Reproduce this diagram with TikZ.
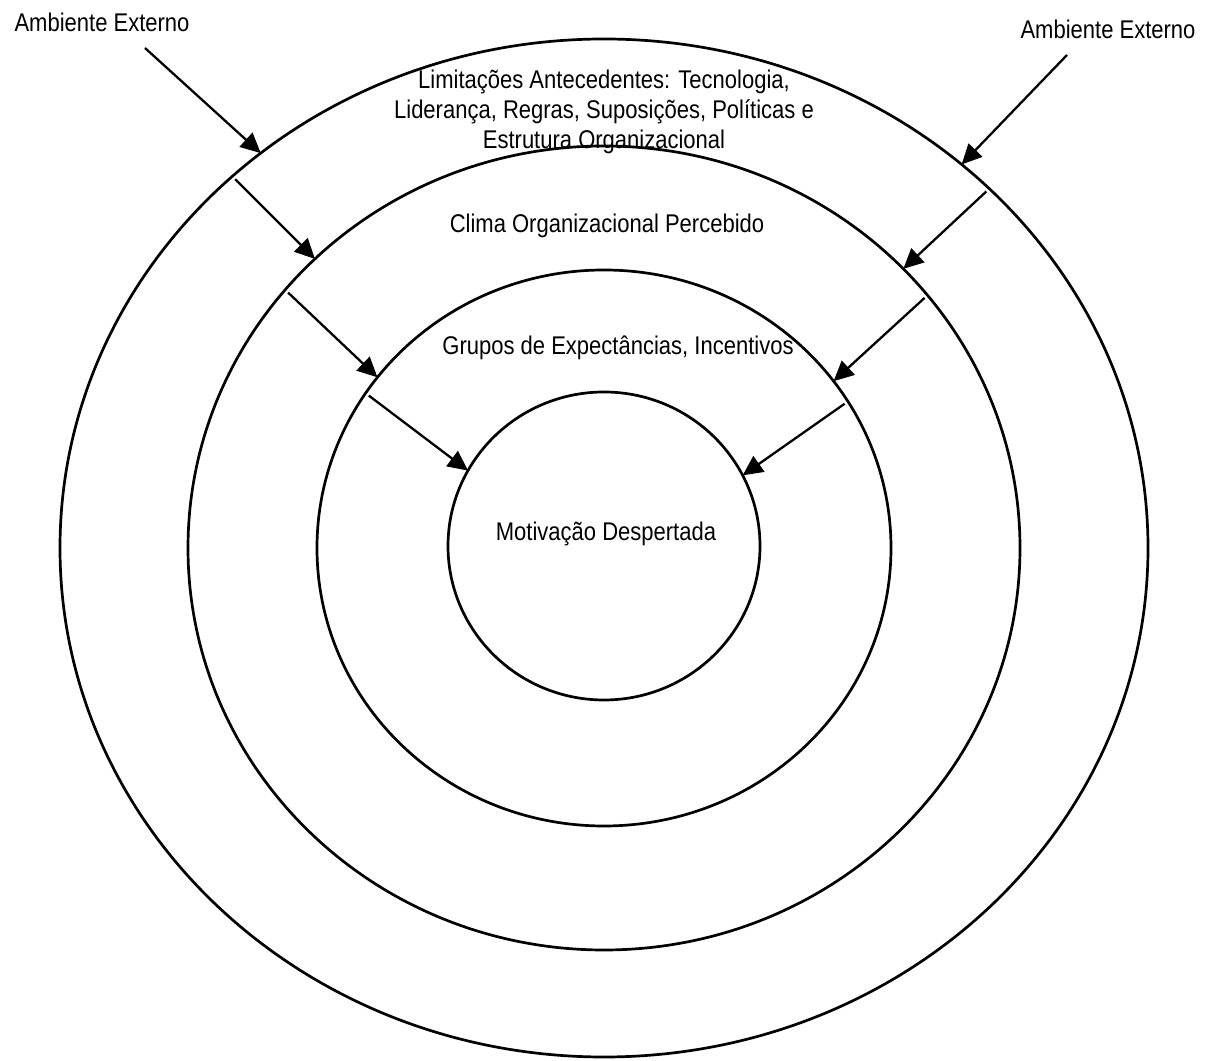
\documentclass[tikz,border=0pt]{standalone}
\usepackage{fontspec}
\setmainfont{Liberation Sans}[FakeStretch=0.86]
\usetikzlibrary{shapes.geometric,arrows.meta}

\begin{document}
\begin{tikzpicture}[x=0.5pt,y=0.5pt]
   \tikzstyle{every node}=[font=\fontsize{12.8}{15}\selectfont, inner sep=0pt]
   \tikzstyle{ring}=[draw, ellipse, line width=1.35pt, outer sep=0pt]
   \tikzstyle{flow}=[line width=1.15pt, -{Triangle[length=10pt,width=9.5pt]}]
   \tikzstyle{inflow}=[flow, shorten <=2pt]

\useasboundingbox (0,0) rectangle (1206,1061);

\node[ring, minimum width=544pt, minimum height=509pt] (limits) at (604,513) {};
\node[ring, minimum width=416pt, minimum height=402pt] (clima) at (604,513) {};
\node[ring, minimum width=287pt, minimum height=278pt] (grupos) at (604,513) {};
\node[ring, minimum width=156pt, minimum height=154pt] (motiv) at (604,515) {};

\node[anchor=base] (ambL) at (102,1029) {Ambiente Externo};
\node[anchor=base] (ambR) at (1108,1022) {Ambiente Externo};
\node[align=center] (limtxt) at (604,949.5) {Limitações Antecedentes: Tecnologia,\\
   Liderança, Regras, Suposições, Políticas e\\ Estrutura Organizacional};
\node[anchor=base] (climatxt) at (607,828) {Clima Organizacional Percebido};
\node[anchor=base] (grupostxt) at (618,706) {Grupos de Expectâncias, Incentivos};
\node[anchor=base] (motivtxt) at (606,520) {Motivação Despertada};

\coordinate (srcL) at (145,1013);
\coordinate (srcR) at (1067,1006);

\draw[flow] (srcL) -- (limits.131.4);
\draw[flow] (srcR) -- (limits.47.8);
\draw[inflow] (limits.135.8) -- (clima.135.5);
\draw[inflow] (limits.43.6) -- (clima.43.5);
\draw[inflow] (clima.141) -- (grupos.143);
\draw[inflow] (clima.38.8) -- (grupos.36);
\draw[inflow] (grupos.147.5) -- (motiv.151.7);
\draw[inflow] (grupos.31.7) -- (motiv.27.2);

\end{tikzpicture}
\end{document}
